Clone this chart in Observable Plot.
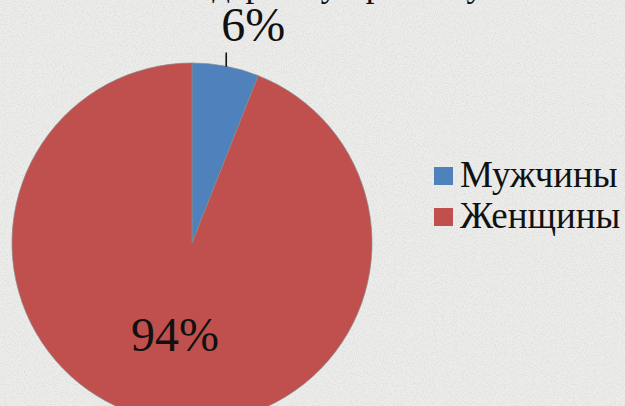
<!DOCTYPE html>
<html>
<head>
<meta charset="utf-8">
<script src="https://cdn.jsdelivr.net/npm/d3@7"></script>
<script src="https://cdn.jsdelivr.net/npm/@observablehq/plot@0.6"></script>
<style>
  html, body { margin: 0; padding: 0; }
  #wrap { position: relative; width: 625px; height: 406px; overflow: hidden; background: #ececeb; font-family: "Liberation Serif", "Times New Roman", serif; color: #111; }
  #grain { position: absolute; left: 0; top: 0; }
  #title { position: absolute; left: 119px; top: -33px; font-size: 35px; line-height: 35px; white-space: nowrap; }
  #chart { position: absolute; left: 0; top: 0; }
  #legend { position: absolute; left: 434px; top: 154px; }
  .row { position: relative; height: 41px; line-height: 41px; font-size: 37px; padding-left: 26px; white-space: nowrap; }
  .sw { position: absolute; left: 0; top: 13px; width: 19px; height: 18px; }
</style>
</head>
<body>
<div id="wrap">
  <svg id="grain" width="625" height="406">
    <filter id="noise" x="0" y="0" width="100%" height="100%">
      <feTurbulence type="fractalNoise" baseFrequency="0.9" numOctaves="2" seed="3" result="n"/>
      <feColorMatrix type="matrix" values="0 0 0 0 0  0 0 0 0 0  0 0 0 0 0  0.55 -0.35 0 0 -0.06" />
    </filter>
    <rect width="625" height="406" filter="url(#noise)" opacity="0.25"/>
  </svg>
  <div id="chart"></div>
  <div id="title"></div>
  <div id="legend"></div>
</div>
<script>
const titleText = "по гендерному признаку";
const categories = ["Мужчины", "Женщины"];
const shares = [6, 94];
const shareLabels = ["6%", "94%"];
const colors = ["#4f81bd", "#c0504d"];

document.getElementById("title").textContent = titleText;

const data = categories.map((c, i) => ({category: c, value: shares[i], label: shareLabels[i]}));
const arcs = d3.pie().sort(null).value(d => d.value)(data);

const xOpts = {domain: [-1, 1], range: [12, 372]};
const yOpts = {domain: [-1, 1], range: [423, 63]};
const xs = Plot.scale({x: xOpts});
const ys = Plot.scale({y: yOpts});
const color = Plot.scale({color: {domain: categories, range: colors}});

const polar = (a, r) => ({x: r * Math.sin(a), y: r * Math.cos(a)});
const mid = a => (a.startAngle + a.endAngle) / 2;

// inside label for the big slice, outside label with a leader for the small slice
const inside = arcs.filter(a => a.data.value >= 50).map(a => ({...polar(mid(a), 0.52), label: a.data.label}));
const outside = arcs.filter(a => a.data.value < 50).map(a => {
  const p0 = polar(mid(a), 1.0), p1 = polar(mid(a), 1.08);
  return {x1: p0.x, y1: p0.y, x2: p1.x - 0.015, y2: p1.y, label: a.data.label};
});

function pieMark(index, scales) {
  const sx = (scales && scales.x) || (v => xs.apply(v));
  const sy = (scales && scales.y) || (v => ys.apply(v));
  const cx = sx(0), cy = sy(0), r = sx(1) - sx(0);
  const g = d3.create("svg:g").attr("transform", `translate(${cx},${cy})`);
  const arcGen = d3.arc().innerRadius(0).outerRadius(r);
  g.selectAll("path").data(arcs).join("path")
    .attr("d", arcGen)
    .attr("fill", d => color.apply(d.data.category))
    .attr("stroke", "#8a8a8a")
    .attr("stroke-width", 0.7);
  return g.node();
}

const plot = Plot.plot({
  width: 625,
  height: 406,
  margin: 0,
  x: {...xOpts, axis: null},
  y: {...yOpts, axis: null},
  style: {background: "transparent", overflow: "visible"},
  marks: [
    pieMark,
    Plot.text(inside, {x: "x", y: "y", text: "label", fontSize: 48, fontFamily: "Liberation Serif", fill: "#111"}),
    Plot.link(outside, {x1: "x1", y1: "y1", x2: "x2", y2: "y2", stroke: "#111", strokeWidth: 1.6}),
    Plot.text(outside, {x: "x2", y: "y2", text: "label", dx: 27, dy: -27, fontSize: 48, fontFamily: "Liberation Serif", fill: "#111"})
  ]
});
document.getElementById("chart").appendChild(plot);

const legend = document.getElementById("legend");
categories.forEach(c => {
  const row = document.createElement("div");
  row.className = "row";
  const sw = document.createElement("div");
  sw.className = "sw";
  sw.style.background = color.apply(c);
  const t = document.createElement("span");
  t.textContent = c;
  row.appendChild(sw);
  row.appendChild(t);
  legend.appendChild(row);
});
</script>
</body>
</html>
